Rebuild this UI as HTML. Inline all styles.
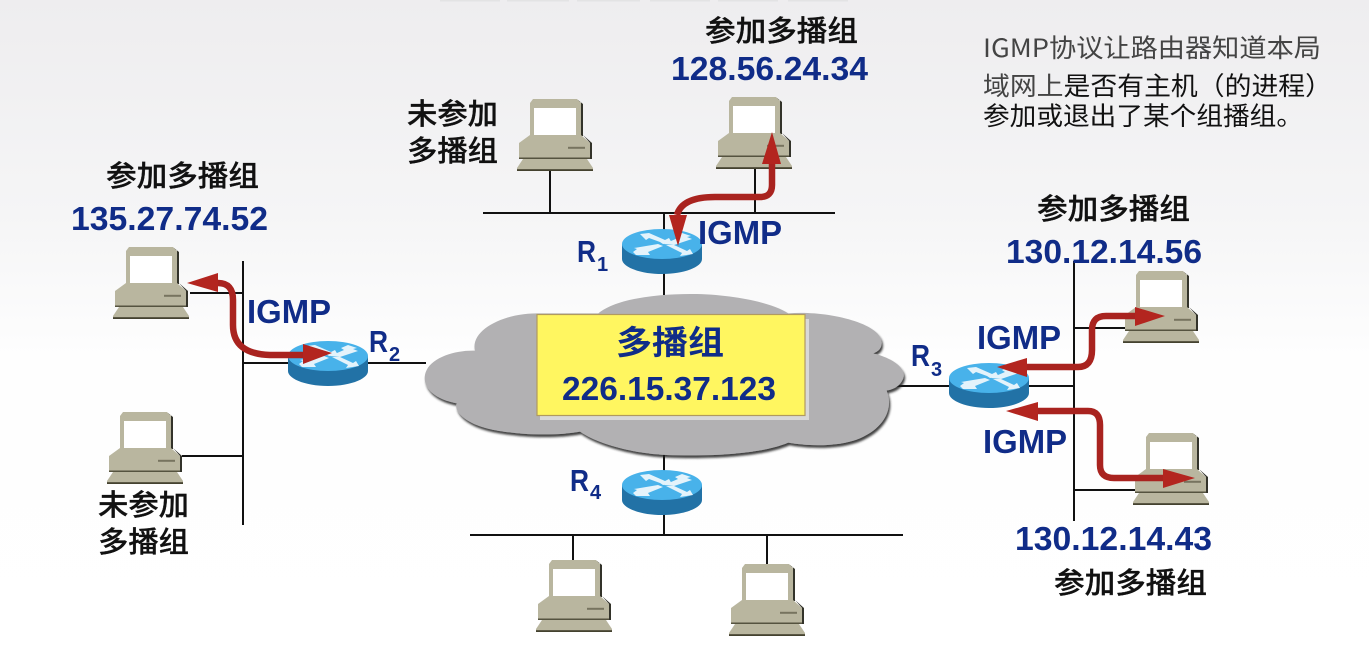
<!DOCTYPE html>
<html><head><meta charset="utf-8"><style>
html,body{margin:0;padding:0;background:#fff}
svg{display:block}
text{font-family:"Liberation Sans","Noto Sans CJK SC",sans-serif}
.z{font-family:"Noto Sans CJK SC","WenQuanYi Zen Hei",sans-serif;font-size:29px;font-weight:500;fill:#111;stroke:#111;stroke-width:.3px}
.n{font-weight:bold;font-size:33px;fill:#102c88}
.i{font-weight:bold;font-size:33px;fill:#102c88}
.r{font-weight:bold;font-size:31px;fill:#102c88}
.s{font-weight:bold;font-size:20px;fill:#102c88}
.t{font-family:"Noto Sans CJK SC","WenQuanYi Zen Hei",sans-serif;font-size:25.5px;fill:#444}
.d{fill:#111}
.y{font-family:"Noto Sans CJK SC",sans-serif;font-size:33px;font-weight:bold;fill:#102c88}
</style></head><body>
<svg width="1369" height="653" viewBox="0 0 1369 653" xmlns="http://www.w3.org/2000/svg">
<defs>
<linearGradient id="bg" x1="0" y1="0" x2="0" y2="1">
<stop offset="0" stop-color="#eeedef"/><stop offset=".33" stop-color="#f5f5f6"/><stop offset=".55" stop-color="#fefefe"/><stop offset="1" stop-color="#fff"/>
</linearGradient>
<filter id="cs" x="-5%" y="-5%" width="110%" height="115%"><feDropShadow dx="4" dy="8" stdDeviation="3" flood-color="#222" flood-opacity=".85"/></filter>
<g id="pc">
<path d="M15,1 L61,1 L66,5 L66,37 L64,37 L64,3Z" fill="#33332a"/>
<path d="M66,36 L75,44 L75,60 L73,60 L73,44Z" fill="#33332a"/>
<path d="M13,4 L16,0 L60,0 L64,4 L64,37 L13,37Z" fill="#b9b69f"/>
<path d="M13,36 L64,36 L73,44 L73,60 L2,60 L2,44Z" fill="#b9b69f"/>
<rect x="17" y="9" width="42" height="27" fill="#fff"/>
<rect x="51" y="47.800" width="17" height="2" fill="#77745f"/>
<rect x="2" y="58.500" width="71" height="1.500" fill="#55533f"/>
<path d="M6,60 L70,60 L76,69 L76,71 L0,71 L0,69Z" fill="#b9b69f"/>
<rect x="0" y="70.200" width="76" height="1.800" fill="#44422f"/>
</g>
<g id="rt">
<path d="M0,15 L0,30 C0,38 18,45 40,45 C62,45 80,38 80,30 L80,15Z" fill="#2272a6"/>
<ellipse cx="40" cy="15" rx="40" ry="15" fill="#48b2ea"/>
<g fill="#e4f3fb">
<path d="M18,5 L27,4 L43,11 L47,9 L50,14 L41,15 L38,13 L27,9 L24,11Z"/>
<path d="M60,4 L69,7 L65,8 L70,10 L52,16 L42,15 L56,9 L53,7Z"/>
<path d="M11,23 L15,20 L12,19 L36,15 L41,17 L26,23 L28,26 L14,26Z"/>
<path d="M44,16 L52,16 L65,22 L68,20 L71,25 L58,27 L60,24Z"/>
</g>
</g>
</defs>
<rect width="1369" height="653" fill="url(#bg)"/>
<g fill="#e3e3e4"><rect x="440" y="0" width="60" height="1.500"/><rect x="507" y="0" width="62" height="1.500"/><rect x="577" y="0" width="63" height="1.500"/><rect x="650" y="0" width="60" height="1.500"/><rect x="718" y="0" width="60" height="1.500"/><rect x="788" y="0" width="60" height="1.500"/></g>

<g stroke="#111" stroke-width="2" fill="none">
<path d="M483,213H835M550,170V213M755,168V213M664,213V235M664,270V295"/>
<path d="M243,261V525M190,293H243M182,456H243M243,363H295M362,363H426"/>
<path d="M1074,261V521M1074,328H1130M1074,490H1140M1024,386H1074M895,386H955"/>
<path d="M470,535H903M573,535V562M767,535V566M664,450V475M664,510V535"/>
</g>

<g transform="translate(420,280) scale(.3333)" filter="url(#cs)">
<path d="M110,370 C30,355 0,310 20,270 C40,230 110,210 165,212 C150,150 250,100 350,100 L535,100 C590,55 720,40 830,42 C950,45 1060,70 1105,100 C1220,90 1390,130 1385,190 C1385,205 1375,215 1360,220 C1420,235 1460,265 1450,295 C1440,320 1420,328 1400,332 C1420,380 1400,440 1320,475 C1260,500 1170,500 1105,488 C1020,525 850,530 740,525 C630,520 530,490 480,455 C400,470 280,465 200,445 C140,430 100,395 110,370 Z" fill="#b2b1b3"/>
</g>
<rect x="540" y="319" width="269" height="101" fill="#d8d8d8"/>
<rect x="537" y="314.500" width="268" height="101" fill="#fff660" stroke="#b09a60" stroke-width="1.200"/>
<text class="y" x="670" y="354" text-anchor="middle" textLength="108" lengthAdjust="spacingAndGlyphs">多播组</text>
<text class="n" x="669" y="400" text-anchor="middle" textLength="214" lengthAdjust="spacingAndGlyphs">226.15.37.123</text>

<use href="#pc" x="517" y="99"/>
<use href="#pc" x="716" y="97"/>
<use href="#pc" x="113" y="247"/>
<use href="#pc" x="107" y="412"/>
<use href="#pc" x="1123" y="271"/>
<use href="#pc" x="1133" y="433"/>
<use href="#pc" x="536" y="560"/>
<use href="#pc" x="729" y="564"/>

<use href="#rt" x="622" y="229"/>
<use href="#rt" x="288" y="341"/>
<use href="#rt" x="949" y="363"/>
<use href="#rt" x="622" y="470"/>

<g fill="none" stroke="#a9231f" stroke-width="6.500" stroke-linejoin="round">
<path d="M772,160 V185 Q772,197 760,197 H715 Q682,197 677,215"/>
<path d="M205,283 H218 Q233,283 233,300 V325 Q233,354 270,355 H312"/>
<path d="M1015,367 H1078 Q1092,367 1092,350 V330 Q1092,316 1106,316 H1145"/>
<path d="M1025,411 H1088 Q1100,411 1100,425 V465 Q1100,478 1114,478 H1175"/>
</g>
<g fill="#b3251f">
<path d="M772,132 L781,164 L762,164Z"/>
<path d="M678,246 L669,215 L687,215Z"/>
<path d="M187,283 L218,273 L218,292Z"/>
<path d="M332,353 L303,344 L303,364Z"/>
<path d="M997,367 L1027,358 L1027,377Z"/>
<path d="M1006,411 L1038,402 L1038,421Z"/>
<path d="M1165,316 L1135,307 L1135,326Z"/>
<path d="M1195,478 L1163,469 L1163,488Z"/>
</g>

<text class="z" x="705" y="41" textLength="153" lengthAdjust="spacingAndGlyphs">参加多播组</text>
<text class="n" x="671" y="80" textLength="197" lengthAdjust="spacingAndGlyphs">128.56.24.34</text>
<text class="z" x="407" y="124" textLength="91" lengthAdjust="spacingAndGlyphs">未参加</text>
<text class="z" x="407" y="161" textLength="91" lengthAdjust="spacingAndGlyphs">多播组</text>
<text class="z" x="106" y="186" textLength="153" lengthAdjust="spacingAndGlyphs">参加多播组</text>
<text class="n" x="71" y="230" textLength="197" lengthAdjust="spacingAndGlyphs">135.27.74.52</text>
<text class="z" x="1037" y="219" textLength="153" lengthAdjust="spacingAndGlyphs">参加多播组</text>
<text class="n" x="1006" y="263" textLength="196" lengthAdjust="spacingAndGlyphs">130.12.14.56</text>
<text class="z" x="98" y="515" textLength="91" lengthAdjust="spacingAndGlyphs">未参加</text>
<text class="z" x="98" y="552" textLength="91" lengthAdjust="spacingAndGlyphs">多播组</text>
<text class="n" x="1015" y="550" textLength="197" lengthAdjust="spacingAndGlyphs">130.12.14.43</text>
<text class="z" x="1054" y="593" textLength="153" lengthAdjust="spacingAndGlyphs">参加多播组</text>

<text class="i" x="698" y="244" textLength="84" lengthAdjust="spacingAndGlyphs">IGMP</text>
<text class="i" x="247" y="323" textLength="84" lengthAdjust="spacingAndGlyphs">IGMP</text>
<text class="i" x="977" y="349" textLength="84" lengthAdjust="spacingAndGlyphs">IGMP</text>
<text class="i" x="983" y="453" textLength="84" lengthAdjust="spacingAndGlyphs">IGMP</text>

<text class="r" x="577" y="262" textLength="19" lengthAdjust="spacingAndGlyphs">R</text><text class="s" x="597" y="271">1</text>
<text class="r" x="369" y="352" textLength="19" lengthAdjust="spacingAndGlyphs">R</text><text class="s" x="389" y="361">2</text>
<text class="r" x="911" y="366" textLength="19" lengthAdjust="spacingAndGlyphs">R</text><text class="s" x="931" y="376">3</text>
<text class="r" x="570" y="491" textLength="19" lengthAdjust="spacingAndGlyphs">R</text><text class="s" x="590" y="499">4</text>

<text class="t" x="983" y="57" textLength="338" lengthAdjust="spacingAndGlyphs">IGMP<tspan>协议让路由器知道本局</tspan></text>
<text class="t" x="983" y="95" textLength="349" lengthAdjust="spacingAndGlyphs">域网上<tspan class="d">是否有主机（的进程）</tspan></text>
<text class="t d" x="983" y="125" textLength="320" lengthAdjust="spacingAndGlyphs">参加或退出了某个组播组。</text>
</svg>
</body></html>
